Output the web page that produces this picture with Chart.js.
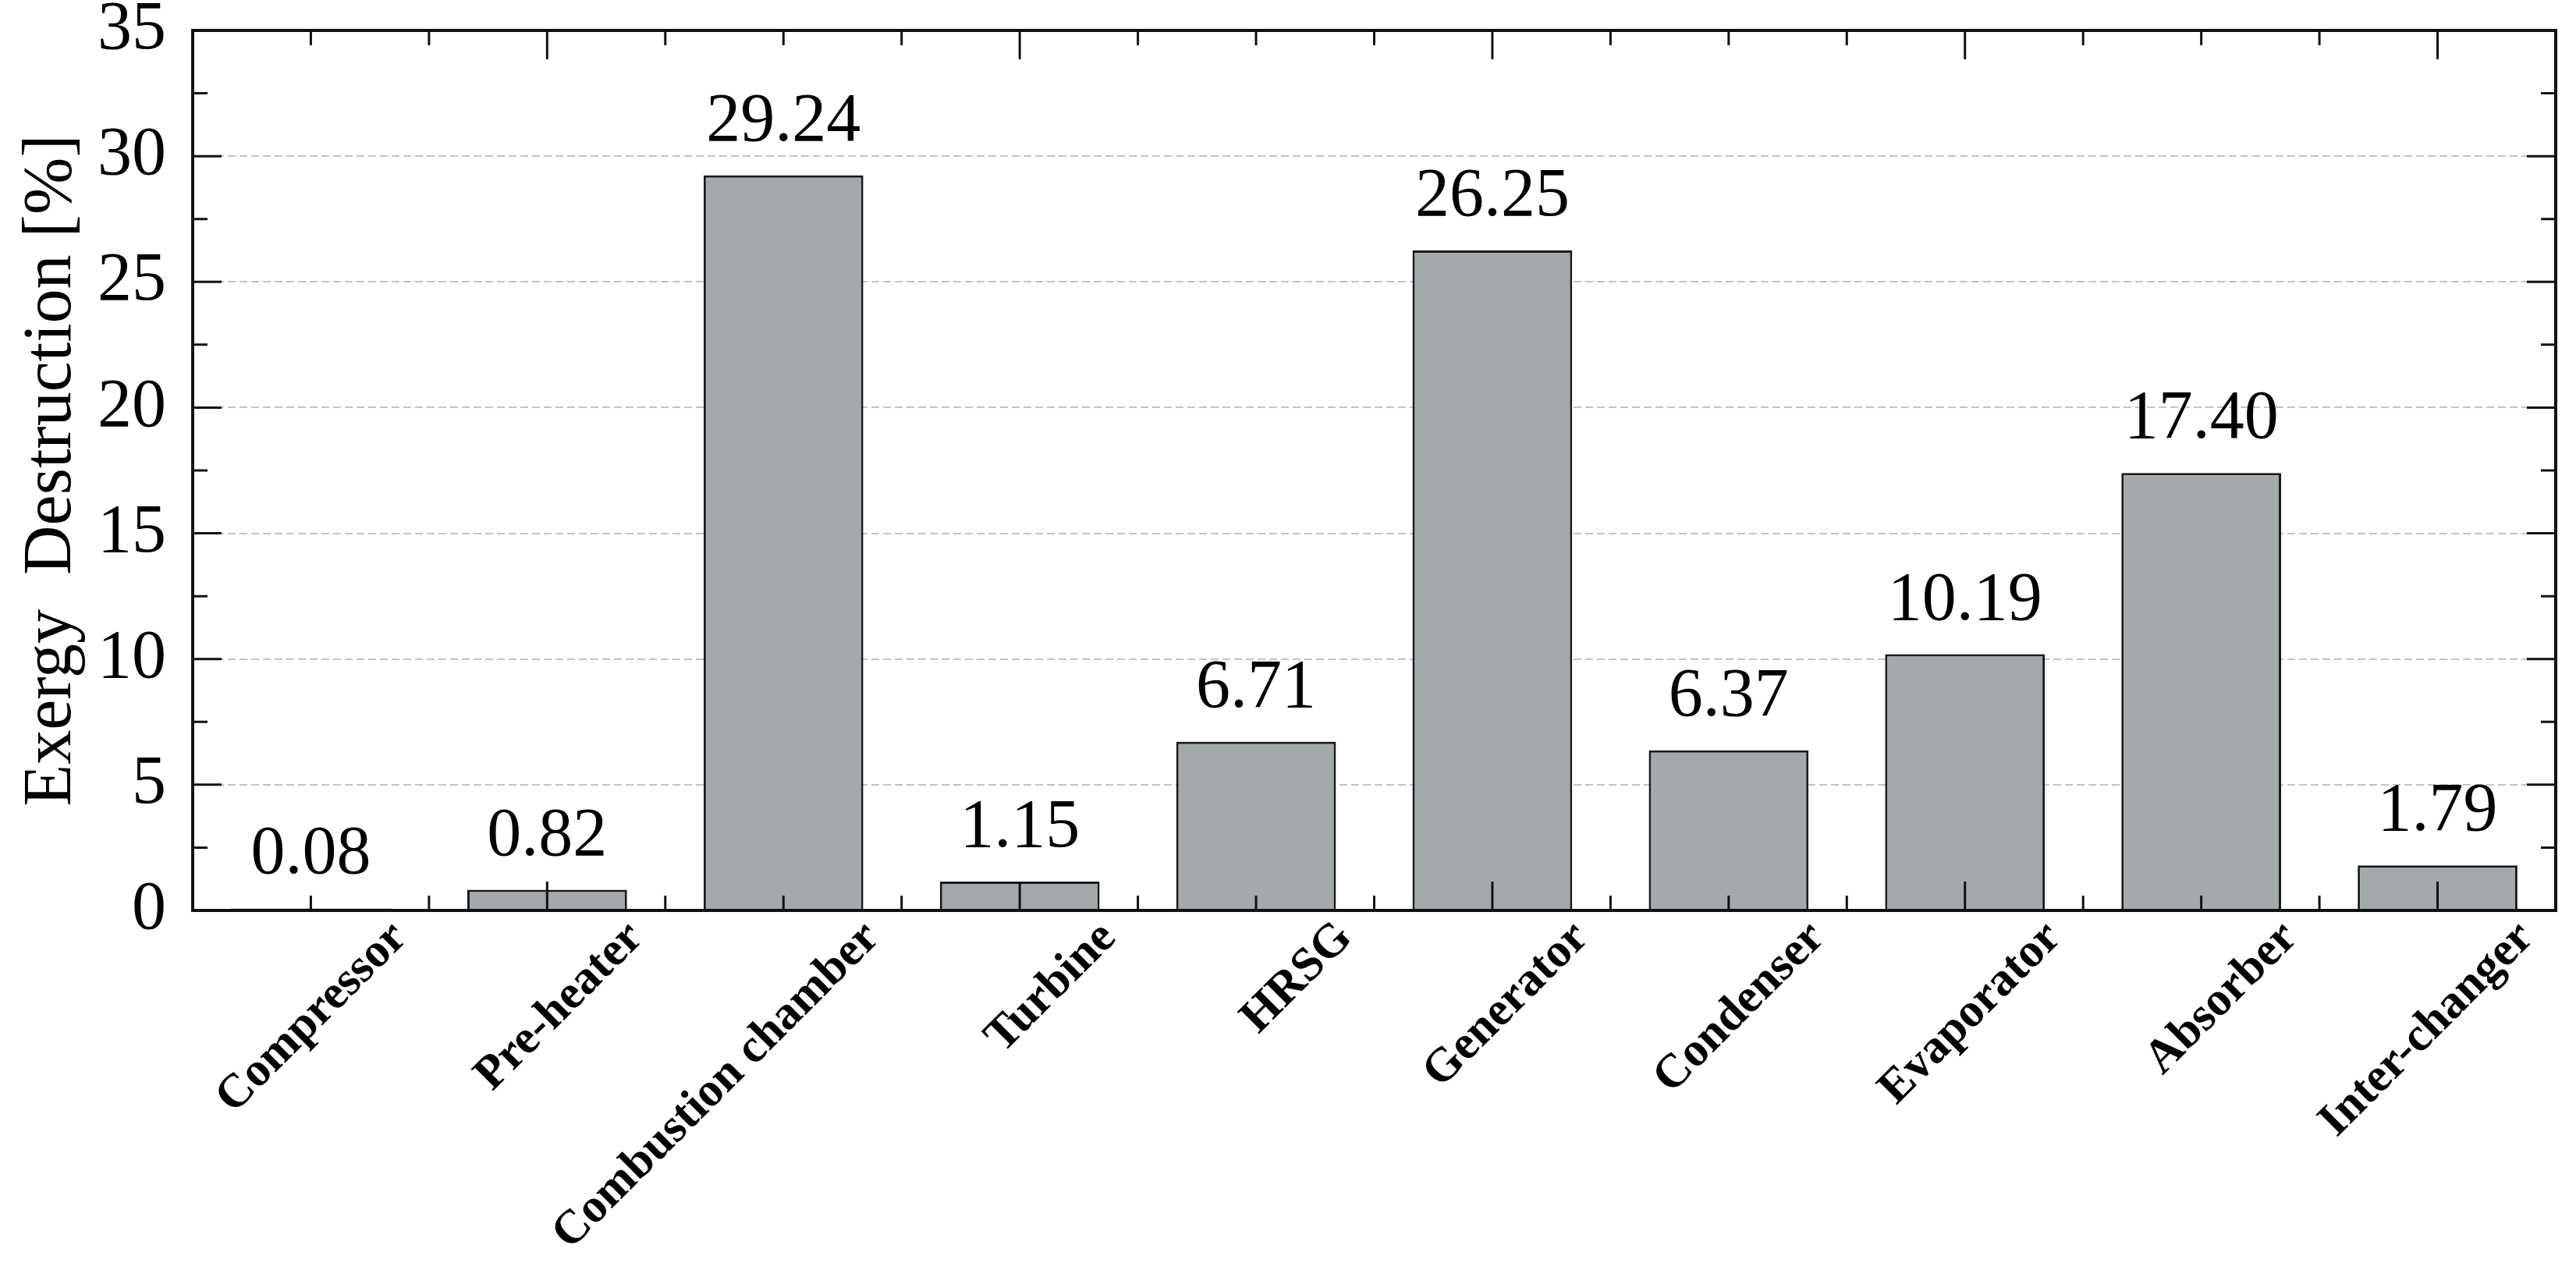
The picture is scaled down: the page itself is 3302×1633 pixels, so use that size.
<!DOCTYPE html>
<html>
<head>
<meta charset="utf-8">
<title>Exergy Destruction</title>
<script src="https://cdn.jsdelivr.net/npm/chart.js@4"></script>
<style>
    html, body { margin: 0; padding: 0; background: #ffffff; }
    canvas { display: block; }
</style>
</head>
<body>
<canvas id="chart" width="3302" height="1633"></canvas>
<script>
const categories = ['Compressor', 'Pre-heater', 'Combustion chamber', 'Turbine', 'HRSG', 'Generator', 'Condenser', 'Evaporator', 'Absorber', 'Inter-changer'];
const destruction = [0.08, 0.82, 29.24, 1.15, 6.71, 26.25, 6.37, 10.19, 17.40, 1.79];
const yMin = 0;
const yMax = 35;
const yStep = 5;
const yMinorStep = 2.5;

const serif = '"Liberation Serif", "Times New Roman", serif';

// value labels above each bar
const valueLabels = {
    id: 'valueLabels',
    afterDatasetsDraw(chart) {
        const ctx = chart.ctx;
        const meta = chart.getDatasetMeta(0);
        ctx.save();
        ctx.font = '88px ' + serif;
        ctx.fillStyle = '#000000';
        ctx.textAlign = 'center';
        ctx.textBaseline = 'alphabetic';
        meta.data.forEach((bar, i) => {
            ctx.fillText(destruction[i].toFixed(2), bar.x, bar.y - 45);
        });
        ctx.restore();
    }
};

// box frame with inward ticks on all four sides
const frameTicks = {
    id: 'frameTicks',
    afterDatasetsDraw(chart) {
        const ctx = chart.ctx;
        const area = chart.chartArea;
        const x = chart.scales.x;
        const y = chart.scales.y;
        const major = 37;
        const minor = 19;
        ctx.save();
        ctx.strokeStyle = '#111111';
        ctx.lineWidth = 3;
        ctx.beginPath();
        for (let k = 1; k < categories.length * 2; k++) {
            const v = -0.5 + k * 0.5;
            const px = x.getPixelForValue(v);
            const len = (k % 4 === 3) ? major : minor;
            ctx.moveTo(px, area.bottom);
            ctx.lineTo(px, area.bottom - len);
            ctx.moveTo(px, area.top);
            ctx.lineTo(px, area.top + len);
        }
        for (let v = yMin + yMinorStep; v < yMax; v += yMinorStep) {
            const py = y.getPixelForValue(v);
            const len = (v % yStep === 0) ? major : minor;
            ctx.moveTo(area.left, py);
            ctx.lineTo(area.left + len, py);
            ctx.moveTo(area.right, py);
            ctx.lineTo(area.right - len, py);
        }
        ctx.stroke();
        ctx.lineWidth = 4;
        ctx.strokeRect(area.left, area.top, area.right - area.left, area.bottom - area.top);
        ctx.restore();
    }
};

new Chart(document.getElementById('chart'), {
    type: 'bar',
    data: {
        labels: categories,
        datasets: [{
            label: 'Exergy Destruction',
            data: destruction,
            backgroundColor: '#a4a9ab',
            borderColor: '#1a1a1a',
            borderWidth: 3,
            categoryPercentage: 1.0,
            barPercentage: 0.676
        }]
    },
    options: {
        responsive: false,
        animation: false,
        layout: {
            padding: { top: 39, right: 26, left: 0, bottom: 0 }
        },
        plugins: {
            legend: { display: false },
            tooltip: { enabled: false }
        },
        scales: {
            x: {
                grid: { display: false, drawTicks: false },
                border: { display: false },
                ticks: {
                    color: '#000000',
                    font: { family: serif, size: 61, weight: 'bold' },
                    maxRotation: 45,
                    minRotation: 45,
                    autoSkip: false,
                    padding: 0,
                    labelOffset: 114
                },
                afterFit(scale) {
                    scale.height = 466;
                    scale.paddingLeft = 0;
                    scale.paddingRight = 0;
                }
            },
            y: {
                min: yMin,
                max: yMax,
                grid: {
                    drawTicks: false,
                    lineWidth: 2,
                    color: ctx => (ctx.tick.value === yMin || ctx.tick.value === yMax) ? 'rgba(0,0,0,0)' : '#c4c4c4'
                },
                border: { display: false, dash: [10, 5] },
                ticks: {
                    stepSize: yStep,
                    color: '#000000',
                    padding: 34,
                    font: { family: serif, size: 88, lineHeight: 0.8 }
                },
                title: {
                    display: true,
                    text: 'Exergy  Destruction [%]',
                    color: '#000000',
                    font: { family: serif, size: 88 },
                    padding: { top: 14, bottom: 0 }
                },
                afterFit(scale) {
                    scale.width = 247;
                    scale.paddingTop = 0;
                    scale.paddingBottom = 0;
                }
            }
        }
    },
    plugins: [valueLabels, frameTicks]
});
</script>
</body>
</html>
